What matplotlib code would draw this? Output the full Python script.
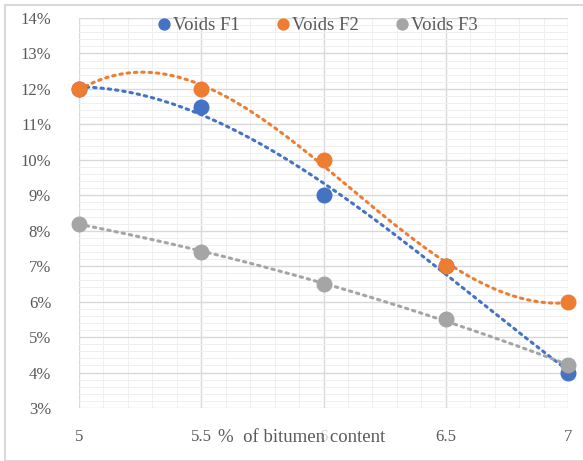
import numpy as np
import matplotlib.pyplot as plt
from matplotlib.ticker import MultipleLocator, FuncFormatter

bitumen = [5, 5.5, 6, 6.5, 7]
voids_f1 = [12.0, 11.5, 9.0, 7.0, 4.0]
voids_f2 = [12.0, 12.0, 10.0, 7.0, 6.0]
voids_f3 = [8.2, 7.4, 6.5, 5.5, 4.2]
names = ['Voids F1', 'Voids F2', 'Voids F3']
colors = ['#4472C4', '#ED7D31', '#A5A5A5']
fit_deg = [3, 3, 2]

plt.rcParams['font.family'] = ['Liberation Serif', 'DejaVu Serif']

fig = plt.figure(figsize=(5.83, 4.61), dpi=100)
ax = fig.add_axes([79/583, 1-408/461, (568-79)/583, (408-18)/461])

# chart border
fig.patches.append(plt.Rectangle((5/583, 0), 1, 1-5/461, transform=fig.transFigure,
                                 fill=False, edgecolor='#d9d9d9', linewidth=1.5))

x = np.array(bitumen)
xs = np.linspace(5, 7, 200)
for ys, c, d in zip([voids_f1, voids_f2, voids_f3], colors, fit_deg):
    p = np.poly1d(np.polyfit(x, ys, d))
    ax.plot(xs, p(xs), color=c, linestyle=(0, (0.8, 1.6)), linewidth=2.2,
            dash_capstyle='round', zorder=3)
for ys, name, c in zip([voids_f1, voids_f2, voids_f3], names, colors):
    ax.plot(x, ys, 'o', color=c, markersize=10.5, label=name, zorder=4, clip_on=False)

ax.set_xlim(5, 7)
ax.set_ylim(3, 14)
ax.xaxis.set_major_locator(MultipleLocator(0.5))
ax.xaxis.set_minor_locator(MultipleLocator(0.1))
ax.yaxis.set_major_locator(MultipleLocator(1))
ax.yaxis.set_minor_locator(MultipleLocator(0.2))
ax.yaxis.set_major_formatter(FuncFormatter(lambda v, p: '%d%%' % v))
ax.xaxis.set_major_formatter(FuncFormatter(lambda v, p: '%g' % v))
ax.grid(which='major', color='#d9d9d9', linewidth=1.0)
ax.grid(which='minor', color='#efefef', linewidth=0.7)
ax.set_axisbelow(True)
for s in ax.spines.values():
    s.set_visible(False)
ax.tick_params(which='both', length=0, labelcolor='#595959', labelsize=12)
ax.tick_params(axis='x', pad=15)
ax.tick_params(axis='y', pad=20)

# axis title sits on the tick row, over the "6" label, as in the original
ax.text(0.285, -0.075, '%  of bitumen content', transform=ax.transAxes,
        fontsize=13.5, color='#595959', ha='left', va='center', zorder=5,
        bbox=dict(facecolor='white', edgecolor='none', alpha=0.75, pad=0.5))

leg = ax.legend(loc='upper center', bbox_to_anchor=(0.485, 1.045), ncol=3, frameon=False,
                fontsize=13.5, handletextpad=0.0, columnspacing=1.8, markerscale=0.75,
                handlelength=1.0)
for t in leg.get_texts():
    t.set_color('#595959')

fig.savefig('out.png', dpi=100)
